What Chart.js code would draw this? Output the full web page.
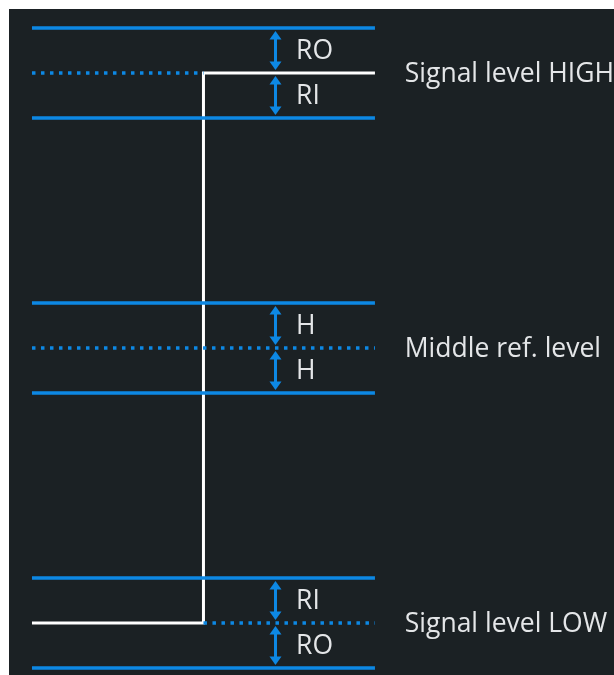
<!DOCTYPE html>
<html lang="en">
<head>
  <meta charset="UTF-8" />
  <title>Signal levels and hysteresis</title>
  <script src="https://cdn.jsdelivr.net/npm/chart.js"></script>
  <style>
    body{margin:0;padding:0;background:#fff}
    .wrap{position:absolute;left:9px;top:9px;width:605px;height:666px;background:#1b2124}
  </style>
</head>
<body>
  <div class="wrap"><canvas id="levels"></canvas></div>

<script>
// --- data -----------------------------------------------------------------
const HYST = 8.2;                         // RO / RI / H band height
const refLevels = [100, 50, 0];           // HIGH, middle, LOW
const refNames = ['Signal level HIGH', 'Middle ref. level', 'Signal level LOW'];
const solidLevels = [108.2, 91.8, 58.2, 41.8, 8.2, -8.2];
const signalX = [0, 50, 50, 100];
const signalY = [0, 0, 100, 100];
// arrows: [x, from, to, label]
const arrows = [
  [71, 100, 108.2, 'RO'], [71, 100, 91.8, 'RI'],
  [71, 50, 58.2, 'H'],    [71, 50, 41.8, 'H'],
  [71, 0, 8.2, 'RI'],     [71, 0, -8.2, 'RO']
];
// dotted reference segments: [xStart, xEnd, level]
const dotted = [[0, 50, 100], [0, 100, 50], [50, 100, 0]];

const BLUE = '#0d88e4';
const TEXT = '#e4e6e8';
const FONT = '"Open Sans", sans-serif';

const datasets = [];
solidLevels.forEach(v => datasets.push({
  data: [{x: 0, y: v}, {x: 100, y: v}],
  borderColor: BLUE, borderWidth: 3.5, pointRadius: 0
}));
dotted.forEach(d => datasets.push({
  data: [{x: d[0], y: d[2]}, {x: d[1], y: d[2]}],
  borderColor: BLUE, borderWidth: 3.5, borderDash: [3.5, 5.5], borderCapStyle: 'butt', pointRadius: 0
}));
datasets.push({
  data: signalX.map((x, i) => ({x: x, y: signalY[i]})),
  borderColor: '#ffffff', borderWidth: 3, pointRadius: 0, borderJoinStyle: 'miter'
});

// --- arrows + text ----------------------------------------------------------
const annot = {
  id: 'annot',
  afterDatasetsDraw(chart) {
    const ctx = chart.ctx, xs = chart.scales.x, ys = chart.scales.y;
    ctx.save();
    arrows.forEach(a => {
      const x = xs.getPixelForValue(a[0]);
      const y0 = ys.getPixelForValue(a[1]), y1 = ys.getPixelForValue(a[2]);
      const dir = y1 > y0 ? 1 : -1;
      const s = y0 + dir * 3, e = y1 - dir * 3;
      ctx.strokeStyle = BLUE; ctx.fillStyle = BLUE; ctx.lineWidth = 3;
      ctx.beginPath(); ctx.moveTo(x, s + dir * 5); ctx.lineTo(x, e - dir * 5); ctx.stroke();
      [[s, dir], [e, -dir]].forEach(([tip, d]) => {
        ctx.beginPath();
        ctx.moveTo(x, tip);
        ctx.lineTo(x - 6, tip + d * 8.5);
        ctx.lineTo(x + 6, tip + d * 8.5);
        ctx.closePath(); ctx.fill();
      });
      ctx.fillStyle = TEXT; ctx.font = '26.5px ' + FONT;
      ctx.textBaseline = 'middle'; ctx.textAlign = 'left';
      ctx.fillText(a[3], xs.getPixelForValue(77), (y0 + y1) / 2 + 1);
    });
    ctx.font = '26.5px ' + FONT;
    refLevels.forEach((v, i) => {
      ctx.fillText(refNames[i], xs.getPixelForValue(108.7), ys.getPixelForValue(v) + 1);
    });
    ctx.restore();
  }
};

new Chart(document.getElementById('levels'), {
  type: 'line',
  data: {datasets: datasets},
  options: {
    responsive: true, maintainAspectRatio: false, animation: false,
    layout: {padding: 0},
    plugins: {legend: {display: false}, tooltip: {enabled: false}},
    scales: {
      x: {type: 'linear', display: false, min: -6.7, max: 169.7},
      y: {type: 'linear', display: false, min: -9.45, max: 111.64}
    }
  },
  plugins: [annot]
});
</script>
</body>
</html>
